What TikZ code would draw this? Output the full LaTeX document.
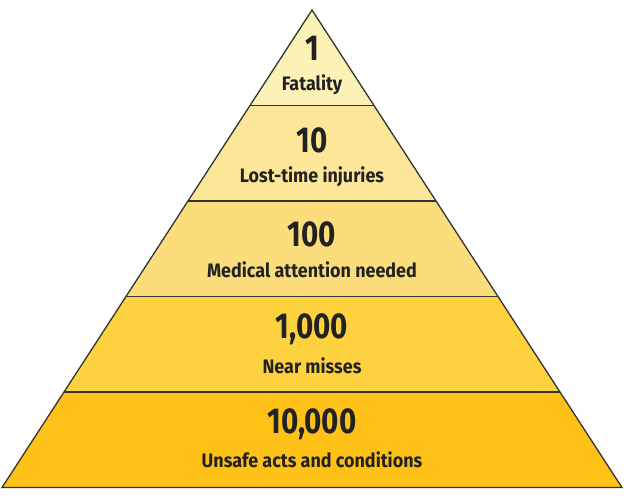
\documentclass[tikz,border=0pt]{standalone}
\usepackage{fontspec}
\setmainfont{Fira Sans}
\newfontfamily\numfont{Fira Sans}[FakeStretch=0.82]
\newfontfamily\capfont{Fira Sans}[FakeStretch=0.92]
\usepackage{tikz}

\definecolor{tierA}{HTML}{FDF2B5}
\definecolor{tierB}{HTML}{FCE697}
\definecolor{tierC}{HTML}{FCDD7B}
\definecolor{tierD}{HTML}{FDD23E}
\definecolor{tierE}{HTML}{FDC118}
\definecolor{edge}{HTML}{333333}
\definecolor{ink}{HTML}{222222}

\tikzset{
  count/.style={font=\numfont\bfseries\fontsize{36}{36}\selectfont, text=ink, inner sep=0pt},
  caption/.style={font=\capfont\bfseries\fontsize{19.5}{19.5}\selectfont, text=ink, inner sep=0pt}
}

\begin{document}
\begin{tikzpicture}[x=1pt, y=-1pt]
  \useasboundingbox (0, 0) rectangle (624, 498);
  \begin{scope}
    \clip (312, 10) -- (2, 487.5) -- (622, 487.5) -- cycle;
    \fill[tierA] (0, 10) rectangle (624, 105.5);
    \fill[tierB] (0, 105.5) rectangle (624, 201);
    \fill[tierC] (0, 201) rectangle (624, 296.5);
    \fill[tierD] (0, 296.5) rectangle (624, 392);
    \fill[tierE] (0, 392) rectangle (624, 487.5);
    \draw[edge, line width=1.5pt] (0, 105.5) -- (624, 105.5);
    \draw[edge, line width=1.5pt] (0, 201) -- (624, 201);
    \draw[edge, line width=1.5pt] (0, 296.5) -- (624, 296.5);
    \draw[edge, line width=1.5pt] (0, 392) -- (624, 392);
  \end{scope}
  \draw[edge, line width=1.3pt, line join=miter] (312, 10) -- (2, 487.5) -- (622, 487.5) -- cycle;
  \node[count] (n1) at (312, 48) {1};
  \node[caption] (t1) at (312, 85) {Fatality};
  \node[count] (n2) at (312, 140) {10};
  \node[caption] (t2) at (312, 177) {Lost-time injuries};
  \node[count] (n3) at (312, 234) {100};
  \node[caption] (t3) at (312, 270) {Medical attention needed};
  \node[count] (n4) at (312, 329) {1,000};
  \node[caption] (t4) at (312, 366) {Near misses};
  \node[count] (n5) at (312, 424) {10,000};
  \node[caption] (t5) at (312, 460) {Unsafe acts and conditions};
\end{tikzpicture}
\end{document}
